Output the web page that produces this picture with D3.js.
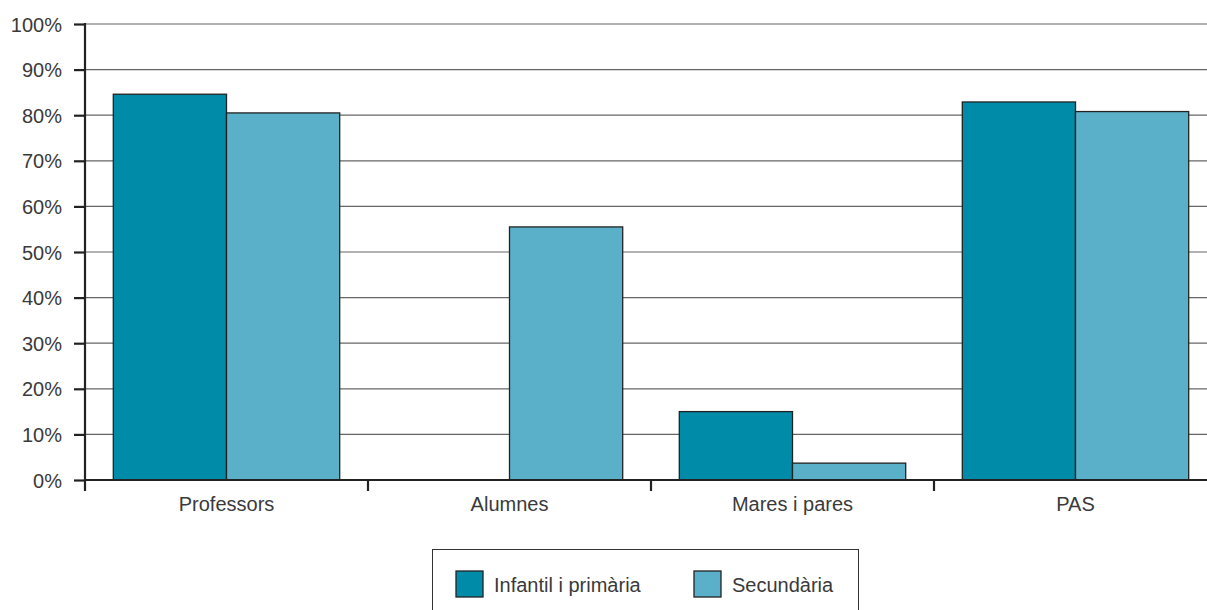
<!DOCTYPE html>
<html><head><meta charset="utf-8">
<script src="https://cdn.jsdelivr.net/npm/d3@7"></script>
<style>body{margin:0;background:#fff}svg{display:block}text{font-family:"Liberation Sans",Arial,sans-serif;fill:#3a3a3a}</style>
</head><body>
<svg id="c" width="1207" height="610"></svg>
<script>
const categories = ["Professors","Alumnes","Mares i pares","PAS"];
const series = ["Infantil i primària","Secundària"];
const infantil = [84.6, 0, 15.0, 82.9];
const secundaria = [80.5, 55.5, 3.7, 80.8];
const yTicks = [0,10,20,30,40,50,60,70,80,90,100];
const colors = ["#008ba8","#5ab0c8"];

const svg = d3.select("#c");
const x0 = 85, x1 = 1217, yTop = 24, yBot = 480;
const x = d3.scaleBand().domain(categories).range([x0,x1]).paddingInner(0.2).paddingOuter(0.1);
const xs = d3.scaleBand().domain(series).range([0,x.bandwidth()]);
const y = d3.scaleLinear().domain([0,100]).range([yBot,yTop]);

// gridlines
svg.append("g").selectAll("line").data(yTicks.filter(d=>d>0)).join("line")
  .attr("x1",x0).attr("x2",1207).attr("y1",d=>y(d)).attr("y2",d=>y(d))
  .attr("stroke","#666").attr("stroke-width",1.2);

const data = categories.map((c,i)=>({c, vals:[infantil[i],secundaria[i]]}));
const g = svg.append("g");
data.forEach(d=>{
  d.vals.forEach((v,j)=>{
    if (v<=0) return;
    g.append("rect").attr("x",x(d.c)+xs(series[j])).attr("y",y(v))
      .attr("width",xs.bandwidth()).attr("height",yBot-y(v))
      .attr("fill",colors[j]).attr("stroke","#222").attr("stroke-width",1.3);
  });
});

// y axis
const ya = svg.append("g").attr("transform",`translate(${x0},0)`)
  .call(d3.axisLeft(y).tickValues(yTicks).tickFormat(d=>d+"%").tickSize(11).tickPadding(12));
ya.select(".domain").remove();
ya.selectAll(".tick line").attr("stroke","#222").attr("stroke-width",2.2);
ya.selectAll(".tick text").style("font-size","20px").attr("fill","#3a3a3a").attr("dy","0.35em");
svg.append("line").attr("x1",x0).attr("x2",x0).attr("y1",yTop-1).attr("y2",491).attr("stroke","#222").attr("stroke-width",2.2);

// x axis
svg.append("line").attr("x1",x0).attr("x2",1207).attr("y1",yBot).attr("y2",yBot).attr("stroke","#222").attr("stroke-width",2.2);
const bounds = categories.slice(1).map(c=>x(c)-x.step()*x.paddingInner()/2);
svg.append("g").selectAll("line").data(bounds).join("line")
  .attr("x1",d=>d).attr("x2",d=>d).attr("y1",yBot).attr("y2",491).attr("stroke","#222").attr("stroke-width",2.2);
svg.append("g").selectAll("text").data(categories).join("text")
  .attr("x",d=>x(d)+x.bandwidth()/2).attr("y",511).attr("text-anchor","middle")
  .style("font-size","20px").text(d=>d);

// legend
svg.append("rect").attr("x",432.5).attr("y",549.5).attr("width",426).attr("height",80)
  .attr("fill","none").attr("stroke","#333").attr("stroke-width",1);
const lx = [456, 694];
series.forEach((s,j)=>{
  svg.append("rect").attr("x",lx[j]).attr("y",571).attr("width",27).attr("height",26)
    .attr("fill",colors[j]).attr("stroke","#222").attr("stroke-width",1.3);
  svg.append("text").attr("x",lx[j]+38).attr("y",592).style("font-size","20px").text(s);
});
</script>
</body></html>
